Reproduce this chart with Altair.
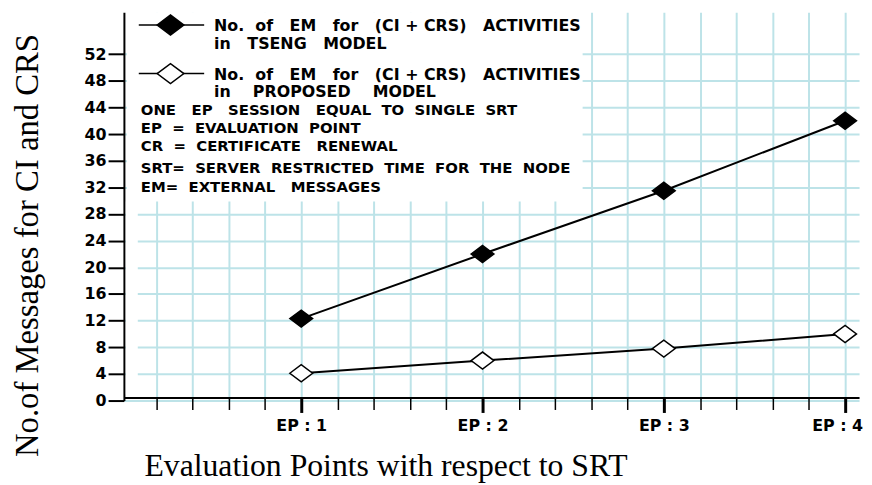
import altair as alt
import pandas as pd

# ---- data ----
ep = [1, 2, 3, 4]
tseng = [12.3, 22.0, 31.5, 42.0]
proposed = [4.1, 6.0, 7.8, 10.0]
series_names = ["TSENG", "PROPOSED"]
legend_line1 = "No.  of   EM   for   (CI + CRS)   ACTIVITIES"
legend_line2 = ["in   TSENG   MODEL", "in    PROPOSED    MODEL"]
notes = [
    "ONE   EP   SESSION   EQUAL  TO  SINGLE  SRT",
    "EP  =  EVALUATION  POINT",
    "CR  =  CERTIFICATE   RENEWAL",
    "SRT=  SERVER  RESTRICTED  TIME  FOR  THE  NODE",
    "EM=  EXTERNAL   MESSAGES",
]
x_ticks = [round(0.2 * k, 1) for k in range(1, 21)]
y_ticks = list(range(0, 53, 4))
x_title = "Evaluation Points with respect to SRT"
y_title = "No.of Messages for CI and CRS"


def spaced(s):
    # SVG collapses runs of spaces; keep them as no-break spaces
    return s.replace(" ", "\u00a0")


df = pd.DataFrame({
    "ep": ep * 2,
    "value": tseng + proposed,
    "series": [series_names[0]] * 4 + [series_names[1]] * 4,
})

GRID = "#bde3e8"
BOLD = "DejaVu Sans"
SERIF = "Liberation Serif"
DIAMOND = "M-1,0L0,-0.75L1,0L0,0.75Z"
fills = {"TSENG": "black", "PROPOSED": "white"}

is_major = "datum.value % 1 === 0"

x_enc = alt.X(
    "ep:Q",
    scale=alt.Scale(domain=[0.022, 4.077], nice=False, zero=False),
    axis=alt.Axis(
        values=x_ticks,
        grid=True, gridColor=GRID, gridWidth=2,
        domainColor="black", domainWidth=2,
        tickColor="black",
        tickSize={"condition": {"test": is_major, "value": 15}, "value": 12},
        tickWidth={"condition": {"test": is_major, "value": 3}, "value": 1.5},
        labelExpr="datum.value % 1 === 0 ? 'EP : ' + datum.value : ''",
        labelFont=BOLD, labelFontWeight="bold", labelFontSize=16, labelColor="black",
        labelPadding=5, labelOverlap=False, labelBound=False,
        labelOffset={"condition": {"test": "datum.value === 4", "value": -8}, "value": 0},
        offset=-3,
        title=x_title, titleFont=SERIF, titleFontWeight="normal", titleFontSize=32,
        titleColor="black", titleX=264, titleY=79, titleAlign="center",
        titleBaseline="alphabetic", titleAnchor="start",
    ),
)
y_enc = alt.Y(
    "value:Q",
    scale=alt.Scale(domain=[0, 58.3], nice=False),
    axis=alt.Axis(
        values=y_ticks,
        grid=True, gridColor=GRID, gridWidth=2,
        domainColor="black", domainWidth=2,
        tickColor="black", tickSize=16, tickWidth=2,
        labelFont=BOLD, labelFontWeight="bold", labelFontSize=16, labelColor="black",
        labelPadding=2, labelOverlap=False, labelBound=False,
        title=y_title, titleFont=SERIF, titleFontWeight="normal", titleFontSize=33,
        titleColor="black", titleAngle=270, titleX=-97, titleY=235,
        titleAlign="center", titleBaseline="middle", titleAnchor="start",
    ),
)

lines = alt.Chart(df).mark_line(color="black", strokeWidth=2).encode(
    x=x_enc, y=y_enc, detail="series:N"
)

layers = [lines]

dummy = pd.DataFrame({"d": [0]})
# white box behind the legend / notes
layers.append(
    alt.Chart(dummy).mark_rect(fill="white").encode(
        x=alt.value(3), x2=alt.value(463), y=alt.value(0), y2=alt.value(191)
    )
)
# small gap between the y axis and the start of the horizontal grid lines
layers.append(
    alt.Chart(dummy).mark_rect(fill="white").encode(
        x=alt.value(2), x2=alt.value(14), y=alt.value(191), y2=alt.value(386)
    )
)

for s in series_names:
    layers.append(
        alt.Chart(df[df["series"] == s]).mark_point(
            shape=DIAMOND, size=529, filled=True, fill=fills[s],
            stroke="black", strokeWidth=1.5, opacity=1,
        ).encode(x=x_enc, y=y_enc)
    )

# manual legend
legend_rows = [13, 62]
for i, s in enumerate(series_names):
    yy = legend_rows[i]
    layers.append(
        alt.Chart(dummy).mark_rule(color="black", strokeWidth=1.5).encode(
            x=alt.value(15), x2=alt.value(81), y=alt.value(yy)
        )
    )
    layers.append(
        alt.Chart(dummy).mark_point(
            shape=DIAMOND, size=729, filled=True, fill=fills[s],
            stroke="black", strokeWidth=1.5, opacity=1,
        ).encode(x=alt.value(47), y=alt.value(yy))
    )
    for j, txt in enumerate([legend_line1, legend_line2[i]]):
        layers.append(
            alt.Chart(dummy).mark_text(
                text=spaced(txt), align="left", baseline="middle", font=BOLD,
                fontWeight="bold", fontSize=16, color="black",
            ).encode(x=alt.value(91), y=alt.value(yy + 1 + j * 18))
        )

note_rows = [99, 117, 135, 157, 176]
for txt, yy in zip(notes, note_rows):
    layers.append(
        alt.Chart(dummy).mark_text(
            text=spaced(txt), align="left", baseline="middle", font=BOLD,
            fontWeight="bold", fontSize=15, color="black",
        ).encode(x=alt.value(17), y=alt.value(yy))
    )

chart = alt.layer(*layers).properties(
    width=742,
    height=392,
    padding={"left": 117, "top": 2, "right": 5, "bottom": 83},
    autosize=alt.AutoSizeParams(type="none"),
    background="white",
).configure_view(stroke=None)

chart.save("out.html", embed_options={"renderer": "svg", "actions": False})
